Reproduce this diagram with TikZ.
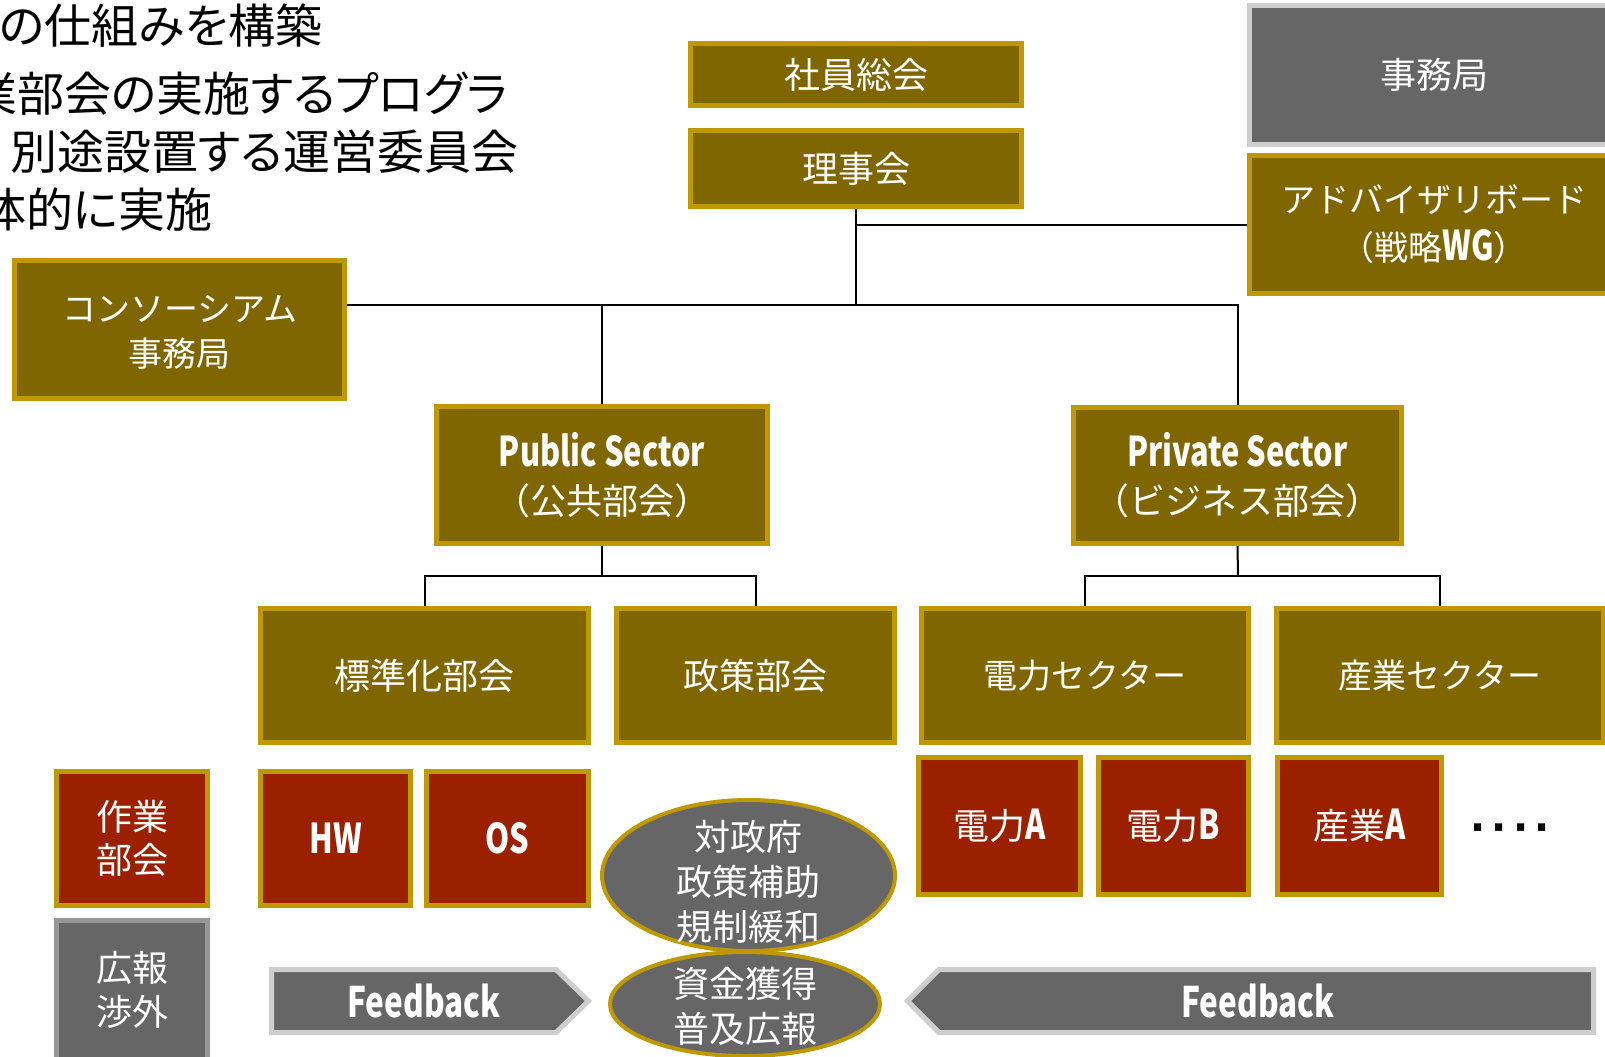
\documentclass[tikz,border=0pt]{standalone}
\usepackage{fontspec}
\setmainfont{Noto Sans CJK JP}
\newfontfamily\jp{Noto Sans CJK JP}
\newfontfamily\jpp[RawFeature=+palt]{Noto Sans CJK JP}
\newfontfamily\cond[FakeStretch=0.75]{Noto Sans CJK JP}
\newfontfamily\dv{DejaVu Sans}
\usetikzlibrary{shapes.geometric}
\definecolor{olivefill}{RGB}{128,102,0}
\definecolor{goldline}{RGB}{191,153,0}
\definecolor{redfill}{RGB}{155,32,0}
\definecolor{grayfill}{RGB}{102,102,102}
\definecolor{lightline}{RGB}{206,206,206}
\definecolor{midline}{RGB}{150,150,150}
\tikzset{
  base/.style={line width=2.5pt, inner sep=0pt, outer sep=1.25pt, align=center, text=white,
    font=\jp\fontsize{18pt}{22.5pt}\selectfont},
  olivebox/.style={base, draw=goldline, fill=olivefill},
  redbox/.style={base, draw=goldline, fill=redfill},
  graybox/.style={base, draw=lightline, fill=grayfill},
  graybox2/.style={base, draw=midline, fill=grayfill},
  ell/.style={ellipse, draw=goldline, fill=grayfill, line width=2pt, inner sep=0pt},
  etext/.style={text=white, inner sep=0pt, align=center, font=\jp\fontsize{18pt}{22.5pt}\selectfont},
  fbarrow/.style={draw=lightline, fill=grayfill, line width=2.5pt, line join=miter},
  fbtext/.style={text=white, inner sep=0pt, font=\cond\bfseries\fontsize{21pt}{24pt}\selectfont},
  head/.style={text=black, inner sep=0pt, anchor=west, font=\jpp\fontsize{23.5pt}{26pt}\selectfont},
  conn/.style={draw=black, line width=1pt},
}
\newcommand\bx[7]{\node[#1,minimum width={(#5-#3-5)*0.5pt},minimum height={(#6-#4-5)*0.5pt}] (#2) at ({(#3+#5)/2},{(#4+#6)/2}) {#7};}
\newcommand\cb[1]{{\cond\bfseries\fontsize{20.5pt}{22.5pt}\selectfont #1}}
\begin{document}
\begin{tikzpicture}[x=0.5pt,y=-0.5pt]
\useasboundingbox (0,0) rectangle (1605,1056);
\clip (0,0) rectangle (1605,1056);
% heading text (cut at the left edge, as in the reference)
\node[head] (t1) at (-1,26) {の仕組みを構築};
\node[head] (t2) at (-30,94) {業部会の実施するプログラ};
\node[head] (t3) at (10,152) {別途設置する運営委員会};
\node[head] (t4) at (-21,210) {体的に実施};
% top
\bx{olivebox}{shain}{688}{41}{1024}{108}{社員総会}
\bx{olivebox}{riji}{688}{128}{1024}{209}{理事会}
\bx{graybox}{jimu}{1247}{3}{1621}{147}{事務局}
\bx{olivebox,font=\jp\fontsize{17pt}{24pt}\selectfont}{adv}{1247}{153}{1621}{296}{アドバイザリボード\\（戦略\cb{WG}）}
\bx{olivebox,font=\jp\fontsize{17pt}{22.5pt}\selectfont}{cons}{12}{258}{347}{401}{\raisebox{-2.5pt}[\height][\depth]{\begin{tabular}{@{}c@{}}コンソーシアム\\事務局\end{tabular}}}
\bx{olivebox,font=\jp\fontsize{18pt}{24pt}\selectfont}{pub}{434}{404}{770}{546}{\cb{Public Sector}\\（公共部会）}
\bx{olivebox,font=\jp\fontsize{18pt}{24pt}\selectfont}{priv}{1071}{405}{1404}{546}{\cb{Private Sector}\\（ビジネス部会）}
% second row
\bx{olivebox}{hyo}{258}{606}{591}{745}{標準化部会}
\bx{olivebox}{sei}{614}{606}{897}{745}{政策部会}
\bx{olivebox,font=\jp\fontsize{17pt}{22.5pt}\selectfont}{dsec}{919}{606}{1251}{745}{電力セクター}
\bx{olivebox,font=\jp\fontsize{17pt}{22.5pt}\selectfont}{ssec}{1274}{606}{1606}{745}{産業セクター}
% third row
\bx{redbox,font=\jp\fontsize{18pt}{21.5pt}\selectfont}{sagyo}{54}{769}{210}{908}{作業\\部会}
\bx{graybox2,font=\jp\fontsize{18pt}{22pt}\selectfont}{kouhou}{54}{918}{210}{1062}{広報\\渉外}
\bx{redbox}{hw}{258}{769}{413}{908}{\cb{HW}}
\bx{redbox}{os}{424}{769}{591}{908}{\cb{OS}}
\bx{redbox}{da}{916}{755}{1083}{897}{電力\cb{A}}
\bx{redbox}{db}{1096}{755}{1251}{897}{電力\cb{B}}
\bx{redbox}{sa}{1275}{755}{1444}{897}{産業\cb{A}}
\node[inner sep=0pt, text=black, font=\dv\bfseries\fontsize{20pt}{20pt}\selectfont] (dots) at (1510,833) {·\hspace{3pt}·\hspace{3pt}·\hspace{3pt}·};
% ellipses
\node[ell, minimum width=146.5pt, minimum height=75.5pt] (e1) at (748.5,875.5) {};
\node[etext] (e1t) at (748,882) {対政府\\政策補助\\規制緩和};
\node[ell, minimum width=135pt, minimum height=52pt] (e2) at (745,1004) {};
\node[etext] (e2t) at (745,1006) {資金獲得\\普及広報};
% feedback arrows
\draw[fbarrow] (271.5,969.5) -- (556,969.5) -- (588.5,1001) -- (556,1032.5) -- (271.5,1032.5) -- cycle;
\node[fbtext] (fbl) at (424,1001) {Feedback};
\draw[fbarrow] (1593.5,969.5) -- (939,969.5) -- (907.5,1001) -- (939,1032.5) -- (1593.5,1032.5) -- cycle;
\node[fbtext] (fbr) at (1258,1001) {Feedback};
% connectors
\coordinate (hub) at (856,305);
\coordinate (pbar) at (602,576);
\coordinate (qbar) at (1238,576);
\draw[conn] (riji.south) -- (hub);
\draw[conn] (riji.south |- adv.west) -- (adv.west);
\draw[conn] (cons.east |- hub) -- (priv.north |- hub) -- (priv.north);
\draw[conn] (pub.north |- hub) -- (pub.north);
\draw[conn] (pub.south) -- (pbar);
\draw[conn] (hyo.north) -- (hyo.north |- pbar) -- (sei.north |- pbar) -- (sei.north);
\draw[conn] (priv.south) -- (qbar);
\draw[conn] (dsec.north) -- (dsec.north |- qbar) -- (ssec.north |- qbar) -- (ssec.north);
\end{tikzpicture}
\end{document}
